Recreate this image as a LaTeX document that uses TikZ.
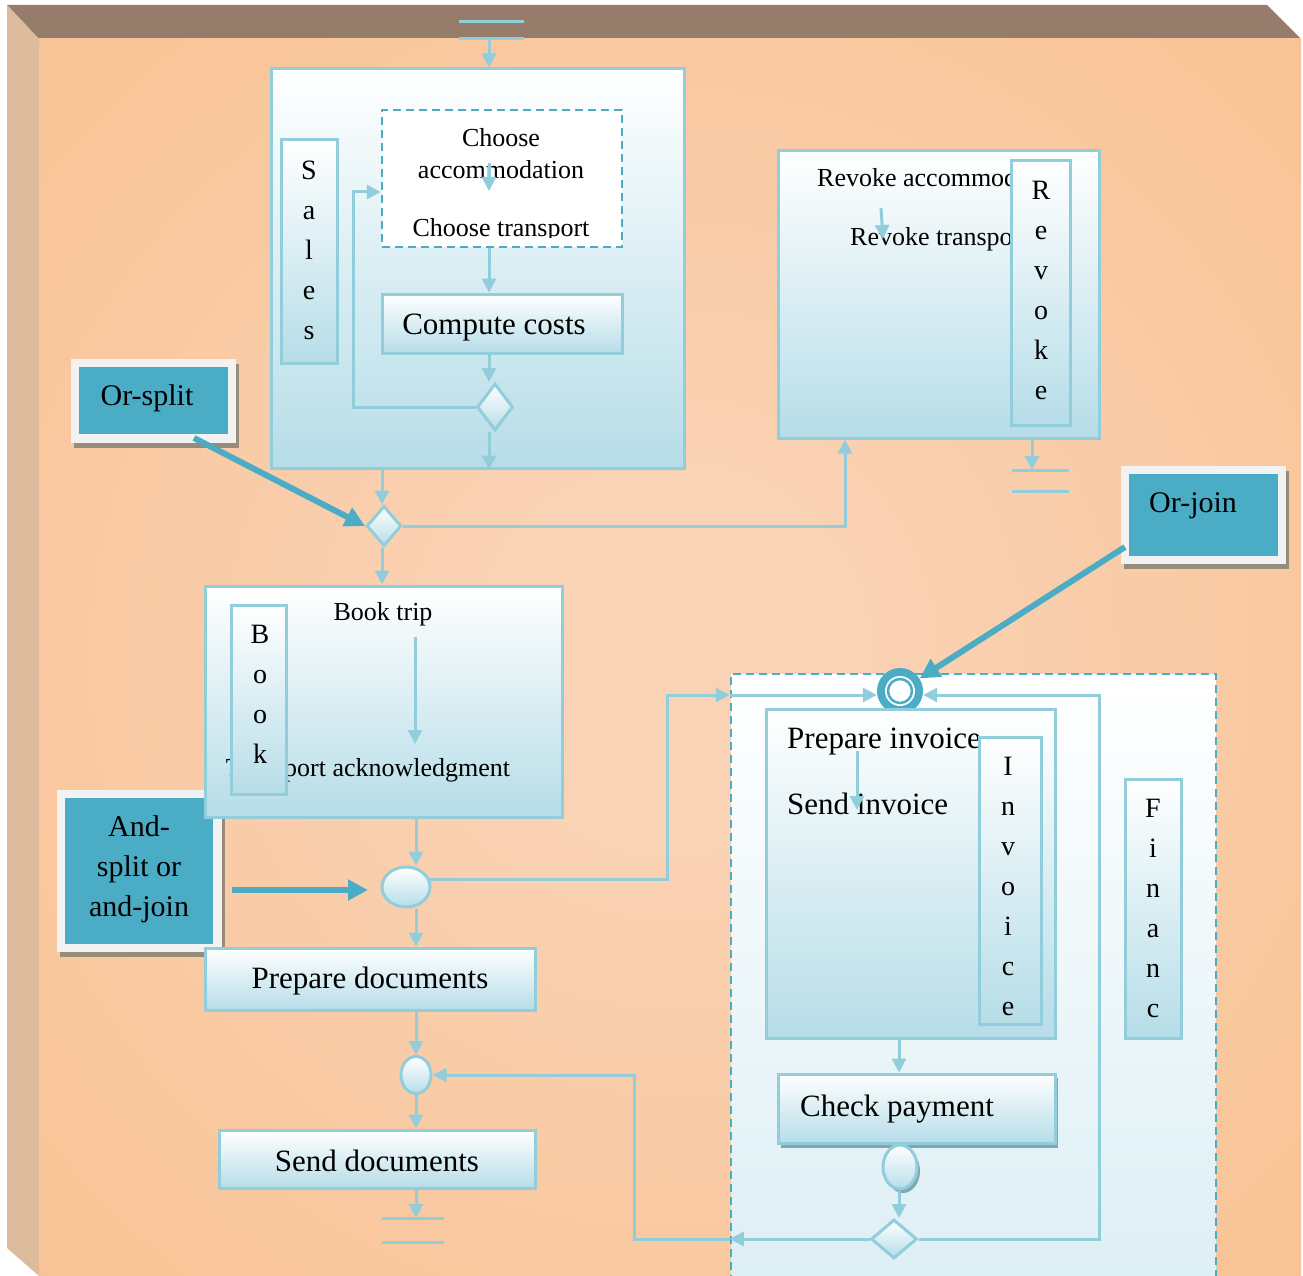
\documentclass[tikz,border=0pt]{standalone}
\usepackage{fontspec}
\setmainfont{Liberation Serif}
\usetikzlibrary{arrows.meta,shapes.geometric,fit,calc}

\definecolor{peach}{HTML}{F8C08F}
\definecolor{glowin}{HTML}{FAD3B6}
\definecolor{bevtop}{HTML}{967D6B}
\definecolor{bevleft}{HTML}{DDBC9E}
\definecolor{flowblue}{HTML}{92CDDC}
\definecolor{tealc}{HTML}{4BACC6}
\definecolor{paleblue}{HTML}{B6DDE8}
\definecolor{mistblue}{HTML}{DCEEF4}
\definecolor{rimgrey}{HTML}{F2F2F2}
\definecolor{rimshadow}{HTML}{978B7B}
\definecolor{boxshadow}{HTML}{7FA6B1}

\pgfdeclareradialshading{peachglow}{\pgfpoint{0bp}{0bp}}{color(0bp)=(glowin); color(6bp)=(glowin); color(40bp)=(peach); color(50bp)=(peach)}

\newcommand\txtsmall{\fontsize{26}{30}\selectfont}
\newcommand\txtbig{\fontsize{31}{36}\selectfont}
\newcommand\txtcall{\fontsize{30}{40}\selectfont}
\newcommand\txtlane{\fontsize{28}{40}\selectfont}

\tikzset{
  panel/.style={draw=flowblue, line width=3pt, top color=white, bottom color=paleblue, inner sep=0pt},
  lane/.style={panel},
  lanetext/.style={font=\txtlane, align=center, inner sep=0pt},
  gate/.style={draw=flowblue, line width=3pt, top color=white, bottom color=paleblue, inner sep=0pt},
  link/.style={draw=flowblue, line width=3pt},
  arrowlink/.style={link, -{Triangle[length=14pt,width=14pt]}},
  tag/.style={font=\txtsmall, inner sep=0pt},
  bigtag/.style={font=\txtbig, inner sep=0pt},
  callshadow/.style={fill=rimshadow, inner sep=0pt},
  callrim/.style={fill=rimgrey, inner sep=0pt},
  callcore/.style={fill=tealc, inner sep=0pt},
  calltext/.style={font=\txtcall, inner sep=0pt, align=center},
  pointer/.style={draw=tealc, line width=6pt, -{Triangle[length=20pt,width=20pt]}},
  endbar/.style={draw=flowblue, line width=3pt},
  dashedbox/.style={draw=tealc, line width=2.5pt, dash pattern=on 8pt off 5pt, inner sep=0pt}
}

\begin{document}
\begin{tikzpicture}[x=1pt,y=-1pt]
\useasboundingbox (0,0) rectangle (1303,1276);

% bevelled frame and peach board
\fill[bevtop] (7,5) -- (1267,5) -- (1301,39) -- (39,39) -- cycle;
\fill[bevleft] (7,5) -- (39,39) -- (39,1276) -- (7,1248) -- cycle;
\shade[shading=peachglow] (39,39) rectangle (1301,1276);

% callouts (underneath the activity boxes)
\node[callshadow, fit={(74,364) (239,448)}] (orsplitshadow) {};
\node[callrim, fit={(71,359) (236,443)}] (orsplitrim) {};
\node[callcore, fit={(79,367) (228,434)}] (orsplit) {};
\node[calltext] (orsplittext) at (147,398) {Or-split};

\node[callshadow, fit={(60,795) (225,957)}] (andsplitshadow) {};
\node[callrim, fit={(57,790) (222,952)}] (andsplitrim) {};
\node[callcore, fit={(65,798) (213,944)}] (andsplit) {};
\node[calltext] (andsplittext) at (139,869) {And-\\split or\\and-join};

\node[callshadow, fit={(1124,471) (1289,569)}] (orjoinshadow) {};
\node[callrim, fit={(1121,466) (1286,564)}] (orjoinrim) {};
\node[callcore, fit={(1129,474) (1278,556)}] (orjoin) {};
\node[calltext, anchor=west] (orjointext) at (1149,506) {Or-join};

% start marker
\draw[endbar] (459,22) -- (524,22) (459,39) -- (524,39);
\coordinate (start) at (489,39);

% Sales
\node[panel, fit={(271,69) (684,468)}] (sales) {};
\node[lane, fit={(281,140) (337,363)}] (saleslane) {};
\node[lanetext] (salesletters) at (309,250) {S\\a\\l\\e\\s};
\node[dashedbox, fill=white, fit={(382,110) (622,247)}] (choose) {};
\begin{scope}
  \clip (384,112) rectangle (620,237);
  \node[tag] (chooseone) at (501,138) {Choose};
  \node[tag] (choosetwo) at (501,170) {accommodation};
  \node[tag] (choosethree) at (501,230) {Choose transport};
\end{scope}
\coordinate (chtop) at (489,163);
\coordinate (chbot) at (489,191);
\draw[arrowlink] (chtop) -- (chbot);
\node[panel, fit={(382,294) (622,353)}] (compute) {};
\node[bigtag] (computetext) at (494,328) {Compute costs};
\node[gate, diamond, minimum width=36pt, minimum height=47pt] (salesgate) at (495,407) {};

\draw[arrowlink] (start) -- (start |- sales.north);
\draw[arrowlink] (choose.south -| chtop) -- (chtop |- compute.north);
\draw[arrowlink] (compute.south -| chtop) -- (chtop |- salesgate.north);
\coordinate (loopc) at (353,192);
\draw[arrowlink] (salesgate.west) -| (loopc) -- (choose.west |- loopc);
\draw[arrowlink] (salesgate.south -| chtop) -- (chtop |- sales.south);

% or-split gate
\node[gate, diamond, minimum width=35pt, minimum height=40pt] (orgate) at (384,526) {};
\coordinate (salesout) at (382,468);
\draw[arrowlink] (salesout |- sales.south) -- (salesout |- orgate.north);

% Revoke
\node[panel, fit={(778,151) (1099,438)}] (revoke) {};
\node[tag, anchor=west] (revone) at (817,178) {Revoke accommodation};
\node[tag, anchor=west] (revtwo) at (850,239) {Revoke transport};
\coordinate (revarrA) at (881,208);
\coordinate (revarrB) at (883,239);
\draw[arrowlink] (revarrA) -- (revarrB);
\node[lane, fit={(1011,161) (1070,425)}] (revokelane) {};
\node[lanetext] (revokeletters) at (1041,290) {R\\e\\v\\o\\k\\e};
\coordinate (revin) at (845,438);
\draw[arrowlink] (orgate.east) -| (revin |- revoke.south);
\coordinate (revout) at (1032,438);
\coordinate (revstop) at (1032,470);
\draw[arrowlink] (revout |- revoke.south) -- (revstop);
\draw[endbar] (1012,470) -- (1069,470) (1012,491) -- (1069,491);

% Book
\node[panel, fit={(205,586) (562,817)}] (book) {};
\draw[arrowlink] (orgate.south -| salesout) -- (salesout |- book.north);
\node[tag] (booktrip) at (383,614) {Book trip};
\node[tag] (bookack) at (368,770) {Transport acknowledgment};
\coordinate (bkA) at (415,637);
\coordinate (bkB) at (415,744);
\draw[arrowlink] (bkA) -- (bkB);
\node[lane, fit={(231,605) (286,794)}] (booklane) {};
\node[lanetext] (bookletters) at (260,694) {B\\o\\o\\k};

% documents branch
\node[gate, ellipse, minimum width=48pt, minimum height=40pt] (andgate) at (406,887) {};
\coordinate (bookout) at (416,817);
\draw[arrowlink] (bookout |- book.south) -- (bookout |- andgate.north);
\node[panel, fit={(205,948) (535,1010)}] (prepdocs) {};
\node[bigtag] (prepdocstext) at (370,981) {Prepare documents};
\draw[arrowlink] (bookout |- andgate.south) -- (bookout |- prepdocs.north);
\node[gate, ellipse, minimum width=30pt, minimum height=37pt] (docgate) at (416,1075) {};
\draw[arrowlink] (bookout |- prepdocs.south) -- (docgate.north);
\node[panel, fit={(219,1130) (535,1188)}] (senddocs) {};
\node[bigtag] (senddocstext) at (377,1161) {Send documents};
\draw[arrowlink] (docgate.south) -- (bookout |- senddocs.north);
\coordinate (docstop) at (416,1218);
\draw[arrowlink] (bookout |- senddocs.south) -- (docstop);
\draw[endbar] (382,1218) -- (444,1218) (382,1242) -- (444,1242);

% Finance
\node[dashedbox, top color=white, bottom color=mistblue, fit={(731,674) (1216,1300)}] (finance) {};
\node[circle, fill=tealc, minimum size=46pt, inner sep=0pt] (join) at (900,691) {};
\fill[white] (join.center) circle (15pt);
\draw[tealc, line width=2.5pt] (join.center) circle (12pt);
\coordinate (finin) at (731,695);
\coordinate (finloop) at (1099,695);
\draw[arrowlink] (finance.west |- finin) -- (join.west |- finin);
\coordinate (andout) at (429,879);
\coordinate (bendA) at (667,695);
\draw[arrowlink] (andout) -| (bendA) -- (finance.west |- finin);

\node[panel, fit={(766,709) (1055,1038)}] (invoice) {};
\node[bigtag, anchor=west] (prepinv) at (787,742) {Prepare invoice};
\node[bigtag, anchor=west] (sendinv) at (787,804) {Send invoice};
\coordinate (invA) at (857,751);
\coordinate (invB) at (857,810);
\draw[arrowlink] (invA) -- (invB);
\node[lane, fit={(979,737) (1041,1024)}] (invoicelane) {};
\node[lanetext] (invoiceletters) at (1008,886) {I\\n\\v\\o\\i\\c\\e};
\node[lane, fit={(1125,779) (1181,1038)}] (financelane) {};
\node[lanetext] (financeletters) at (1153,908) {F\\i\\n\\a\\n\\c};

\fill[boxshadow] (781,1078) rectangle (1058,1148);
\node[panel, fit={(778,1074) (1055,1143)}] (check) {};
\node[bigtag, anchor=west] (checktext) at (800,1109) {Check payment};
\coordinate (invout) at (899,1038);
\draw[arrowlink] (invout |- invoice.south) -- (invout |- check.north);
\fill[boxshadow] (903,1171) ellipse (17pt and 22pt);
\node[gate, ellipse, minimum width=34pt, minimum height=44pt] (paygate) at (900,1167) {};
\node[gate, diamond, minimum width=46pt, minimum height=39pt] (paydecide) at (894,1239) {};
\draw[arrowlink] (invout |- paygate.south) -- (invout |- paydecide.north);

\coordinate (retx) at (634,1075);
\draw[arrowlink] (paydecide.west) -- (finance.west |- paydecide.west);
\draw[arrowlink] (finance.west |- paydecide.west) -| (retx) -- (docgate.east);
\draw[arrowlink] (paydecide.east) -| (finloop) -- (join.east |- finloop);

% callout pointers
\coordinate (ostail) at (194,438);
\draw[pointer] (ostail) -- (orgate.west);
\coordinate (astail) at (232,890);
\coordinate (ashead) at (368,890);
\draw[pointer] (astail) -- (ashead);
\coordinate (ojtail) at (1125,547);
\draw[pointer] (ojtail) -- (join);
\end{tikzpicture}
\end{document}
